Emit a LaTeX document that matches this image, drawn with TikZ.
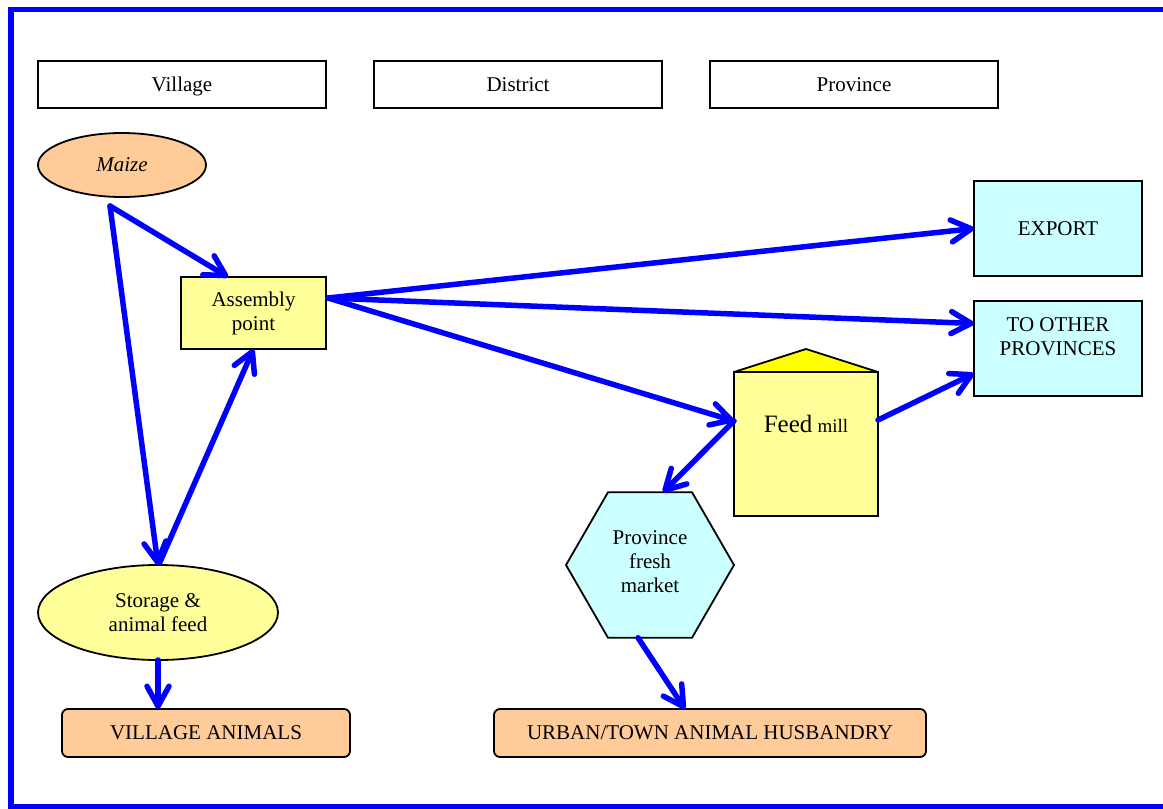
\documentclass[tikz,border=0pt]{standalone}
\usepackage{fontspec}
\setmainfont{Liberation Serif}
\usetikzlibrary{arrows.meta,shapes.geometric,calc}
\definecolor{peach}{HTML}{FFCC99}
\definecolor{paleyellow}{HTML}{FFFF99}
\definecolor{palecyan}{HTML}{CCFFFF}
\definecolor{roofyellow}{HTML}{FFFF00}
\definecolor{flowblue}{HTML}{0000FF}
\begin{document}
\begin{tikzpicture}[x=1pt,y=-1pt,
  base/.style={draw=black, line width=1.8pt, inner sep=0pt, outer sep=0pt,
    align=center, font=\fontsize{21}{24}\selectfont},
  hdr/.style={base, rectangle, fill=white, minimum width=288, minimum height=47,
    text height=14pt, text depth=1pt},
  box/.style={base, rectangle, minimum width=168, minimum height=95, fill=palecyan},
  endbox/.style={base, rectangle, rounded corners=6pt, fill=peach, minimum height=48},
  flow/.style={draw=flowblue, line width=5.5pt, line cap=round, line join=round,
    -{Straight Barb[length=20pt,width=22pt,line cap=round,line join=round]}}]
\useasboundingbox (0,0) rectangle (1163,809);

% outer frame (open on the right)
\draw[flowblue, line width=5.5pt] (1175,9.5) -- (11,9.5) -- (11,807) -- (1175,807);

% administrative levels
\node[hdr] (vil) at (182,84.5) {Village};
\node[hdr] (dis) at (518,84.5) {District};
\node[hdr] (pro) at (854,84.5) {Province};

% chain nodes
\node[base, ellipse, fill=peach, minimum width=168, minimum height=64] (maize) at (122,165) {\itshape Maize};
\node[base, rectangle, fill=paleyellow, minimum width=145, minimum height=72] (asm) at (253.5,313) {Assembly\\point};
\node[box] (exp) at (1058,228.5) {EXPORT};
\node[box] (oth) at (1058,348.5) {TO OTHER\\PROVINCES\\~};
\node[base, rectangle, fill=paleyellow, minimum width=144, minimum height=144,
  text height=17pt, text depth=40pt] (mill) at (806,444)
  {{\fontsize{25}{28}\selectfont Feed} {\fontsize{19}{22}\selectfont mill}};
\filldraw[fill=roofyellow, draw=black, line width=1.8pt, line join=round]
  (mill.north west) -- ($(mill.north)+(0,-23)$) -- (mill.north east) -- cycle;
\node[base, regular polygon, regular polygon sides=6, minimum size=168, fill=palecyan] (hex) at (650,565) {Province\\fresh\\market\\[-18pt]~};
\node[base, ellipse, fill=paleyellow, minimum width=240, minimum height=95] (stor) at (158,612.5) {Storage \&\\animal feed};
\node[endbox, minimum width=288] (va) at (206,733) {VILLAGE ANIMALS};
\node[endbox, minimum width=432] (urb) at (710,733) {URBAN/TOWN ANIMAL HUSBANDRY};

% connectors
\coordinate (mz) at ($(maize.south)+(-12,9)$);
\coordinate (ap) at ($(asm.east)+(2,-15)$);
\coordinate (mw) at ($(mill.west)+(0,-23)$);
\coordinate (me) at ($(mill.east)+(0,-24)$);
\draw[flow] (mz) -- ($(asm.north west)+(47,0)$);
\draw[flow] (mz) -- (stor.north);
\draw[flow] ($(stor.north)+(2,-3)$) -- (asm.south);
\draw[flow] (ap) -- (exp.west);
\draw[flow] (ap) -- ($(oth.west)+(0,-25)$);
\draw[flow] (ap) -- (mw);
\draw[flow] (mw) -- ($(hex.north)+(13,0)$);
\draw[flow] (me) -- ($(oth.west)+(0,25)$);
\draw[flow] (stor.south) -- (stor.south |- va.north);
\draw[flow] ($(hex.south)+(-12,0)$) -- ($(urb.north)+(-25,0)$);
\end{tikzpicture}
\end{document}
